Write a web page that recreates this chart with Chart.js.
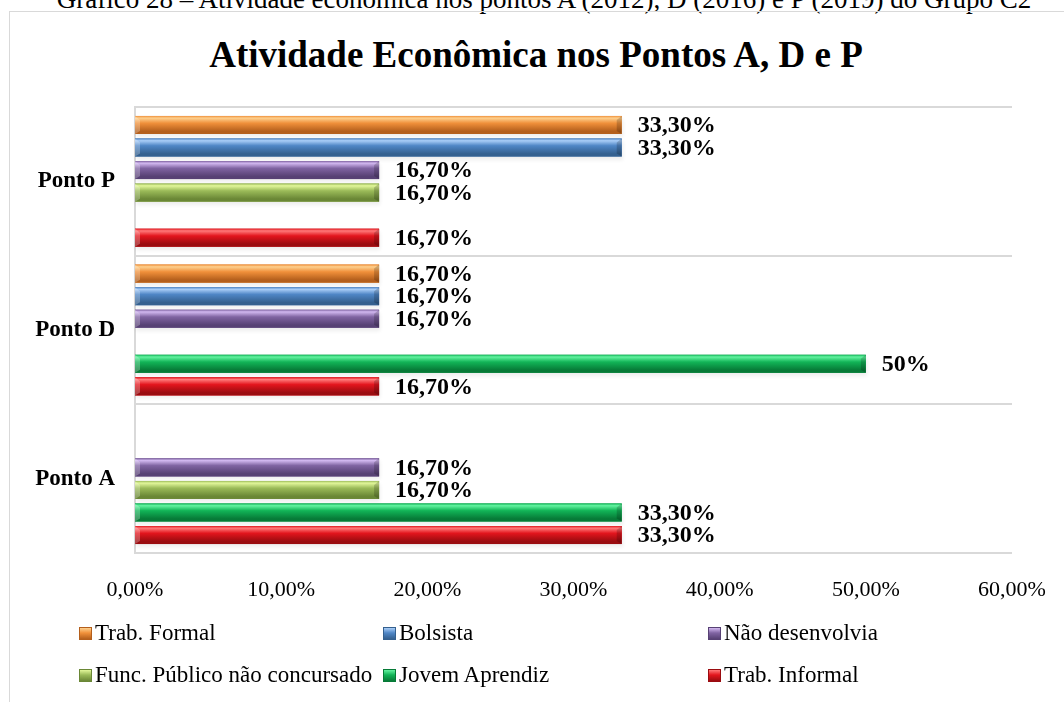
<!DOCTYPE html>
<html lang="pt-BR">
<head>
<meta charset="utf-8">
<title>Atividade Econômica nos Pontos A, D e P</title>
<script src="https://cdn.jsdelivr.net/npm/chart.js@4.4.1/dist/chart.umd.min.js"></script>
<style>
  html, body { margin: 0; padding: 0; background: #fff; }
  body { width: 1064px; height: 702px; position: relative; overflow: hidden;
         font-family: "Liberation Serif", "Times New Roman", serif; }
  #caption { position: absolute; left: 0; width: 1088px; top: -14px; text-align: center;
             font-size: 27px; line-height: 27px; white-space: nowrap; color: #000; }
  #frame { position: absolute; left: 9px; top: 11px; width: 1100px; height: 720px;
           border: 1.5px solid #d9d9d9; }
  #title { position: absolute; left: 0; width: 1072px; top: 33px; text-align: center;
           font-size: 37px; line-height: 44px; font-weight: bold; color: #000; white-space: nowrap; }
  #wrap { position: absolute; left: 0; top: 0; width: 1064px; height: 702px; }
  #legend { position: absolute; left: 79px; top: 612px; display: grid;
            grid-template-columns: 304px 325px 300px; grid-auto-rows: 42px; }
  .item { display: flex; align-items: center; font-size: 23px; color: #000; white-space: nowrap; }
  .sw { width: 13px; height: 13px; margin-right: 3px; box-sizing: border-box; }
</style>
</head>
<body>
<div id="caption">Gráfico 28 – Atividade econômica nos pontos A (2012), D (2016) e P (2019) do Grupo C2</div>
<div id="frame"></div>
<div id="title">Atividade Econômica nos Pontos A, D e P</div>
<div id="wrap"><canvas id="chart" width="1064" height="702"></canvas></div>
<div id="legend"></div>
<script>
// categories, top to bottom as in the picture
const categories = ['Ponto P', 'Ponto D', 'Ponto A'];

// series values (%), null = no bar
const trabFormal = [33.3, 16.7, null];
const bolsista = [33.3, 16.7, null];
const naoDesenvolvia = [16.7, 16.7, 16.7];
const funcPublico = [16.7, null, 16.7];
const jovemAprendiz = [null, 50, 33.3];
const trabInformal = [16.7, 16.7, 33.3];

const xTickLabels = ['0,00%', '10,00%', '20,00%', '30,00%', '40,00%', '50,00%', '60,00%'];

const serif = "'Liberation Serif', 'Times New Roman', serif";

// colour tones for the rounded look: light, base, dark
const tones = [
    { light: '#fdd08e', base: '#f0903a', dark: '#b45f1c' },  // Trab. Formal
    { light: '#a9cdf7', base: '#4f86c6', dark: '#34608f' },  // Bolsista
    { light: '#d2b8f0', base: '#8064a2', dark: '#574174' },  // Não desenvolvia
    { light: '#e2f79a', base: '#9bbb59', dark: '#6a8736' },  // Func. Público
    { light: '#63f3a0', base: '#12b457', dark: '#077a37' },  // Jovem Aprendiz
    { light: '#ff7a7a', base: '#e3151d', dark: '#9a0c10' }   // Trab. Informal
];

const names = ['Trab. Formal', 'Bolsista', 'Não desenvolvia',
               'Func. Público não concursado', 'Jovem Aprendiz', 'Trab. Informal'];
const series = [trabFormal, bolsista, naoDesenvolvia, funcPublico, jovemAprendiz, trabInformal];

function pct(v) {
    return Number.isInteger(v) ? v + '%' : v.toFixed(2).replace('.', ',') + '%';
}

// shading and shadows on top of the library's bars
const barLook = {
    id: 'barLook',
    beforeDatasetsDraw(chart) {
        const ctx = chart.ctx;
        ctx.save();
        ctx.fillStyle = 'rgba(0,0,0,0.2)';
        ctx.shadowColor = 'rgba(0,0,0,0.35)';
        ctx.shadowBlur = 4;
        ctx.shadowOffsetX = 1;
        ctx.shadowOffsetY = 3;
        chart.data.datasets.forEach((ds, i) => {
            chart.getDatasetMeta(i).data.forEach((bar, j) => {
                if (ds.data[j] == null) return;
                const p = bar.getProps(['x', 'y', 'base', 'height'], true);
                ctx.fillRect(p.base, p.y - p.height / 2, p.x - p.base, p.height);
            });
        });
        ctx.restore();
    },
    afterDatasetDraw(chart, args) {
        const ctx = chart.ctx;
        const ds = chart.data.datasets[args.index];
        const t = tones[args.index];
        ctx.save();
        args.meta.data.forEach((bar, j) => {
            if (ds.data[j] == null) return;
            const p = bar.getProps(['x', 'y', 'base', 'height'], true);
            const top = p.y - p.height / 2;
            const g = ctx.createLinearGradient(0, top, 0, top + p.height);
            g.addColorStop(0, t.base);
            g.addColorStop(0.12, t.light);
            g.addColorStop(0.4, t.base);
            g.addColorStop(0.85, t.dark);
            g.addColorStop(1, t.dark);
            ctx.fillStyle = g;
            ctx.fillRect(p.base, top, p.x - p.base, p.height);
            // bevelled ends
            ctx.fillStyle = 'rgba(0,0,0,0.18)';
            ctx.beginPath();
            ctx.moveTo(p.x - 5, top + 4);
            ctx.lineTo(p.x, top);
            ctx.lineTo(p.x, top + p.height);
            ctx.lineTo(p.x - 5, top + p.height - 3);
            ctx.closePath();
            ctx.fill();
            ctx.fillStyle = 'rgba(255,255,255,0.25)';
            ctx.beginPath();
            ctx.moveTo(p.base, top);
            ctx.lineTo(p.base + 5, top + 4);
            ctx.lineTo(p.base + 5, top + p.height - 3);
            ctx.lineTo(p.base, top + p.height);
            ctx.closePath();
            ctx.fill();
        });
        ctx.restore();
    }
};

// value labels to the right of each bar
const valueLabels = {
    id: 'valueLabels',
    afterDatasetsDraw(chart) {
        const ctx = chart.ctx;
        ctx.save();
        ctx.font = 'bold 24px ' + serif;
        ctx.fillStyle = '#000';
        ctx.textAlign = 'left';
        ctx.textBaseline = 'middle';
        chart.data.datasets.forEach((ds, i) => {
            chart.getDatasetMeta(i).data.forEach((bar, j) => {
                const v = ds.data[j];
                if (v == null) return;
                ctx.fillText(pct(v), bar.x + 16, bar.y + 1);
            });
        });
        ctx.restore();
    }
};

const ctx = document.getElementById('chart').getContext('2d');
const chart = new Chart(ctx, {
    type: 'bar',
    data: {
        labels: categories,
        datasets: series.map((d, i) => ({
            label: names[i],
            data: d,
            backgroundColor: tones[i].base,
            borderWidth: 0,
            categoryPercentage: 0.91,
            barPercentage: 0.8
        }))
    },
    options: {
        indexAxis: 'y',
        responsive: false,
        animation: false,
        layout: { padding: { left: 10, right: 52, top: 107, bottom: 0 } },
        plugins: {
            legend: { display: false },
            tooltip: { enabled: false },
            title: { display: false }
        },
        scales: {
            x: {
                min: 0,
                max: 60,
                ticks: {
                    stepSize: 10,
                    color: '#000',
                    padding: 16,
                    font: { family: serif, size: 22 },
                    callback: (v, i) => xTickLabels[i]
                },
                grid: { display: false },
                border: { display: false },
                afterFit: s => { s.height = 149; }
            },
            y: {
                ticks: {
                    color: '#000',
                    padding: 20,
                    font: { family: serif, size: 23, weight: 'bold' }
                },
                grid: { color: '#d9d9d9', lineWidth: 2, drawTicks: false, offset: true },
                border: { display: true, color: '#d9d9d9', width: 2 },
                afterFit: s => { s.width = 125; }
            }
        }
    },
    plugins: [barLook, valueLabels]
});

// legend in three columns, like the original
const legend = document.getElementById('legend');
names.forEach((n, i) => {
    const t = tones[i];
    const item = document.createElement('div');
    item.className = 'item';
    const sw = document.createElement('span');
    sw.className = 'sw';
    sw.style.background = 'linear-gradient(to bottom, ' + t.light + ' 0%, ' + t.base + ' 45%, ' + t.dark + ' 100%)';
    sw.style.border = '1px solid ' + t.dark;
    item.appendChild(sw);
    item.appendChild(document.createTextNode(n));
    legend.appendChild(item);
});
</script>
</body>
</html>
